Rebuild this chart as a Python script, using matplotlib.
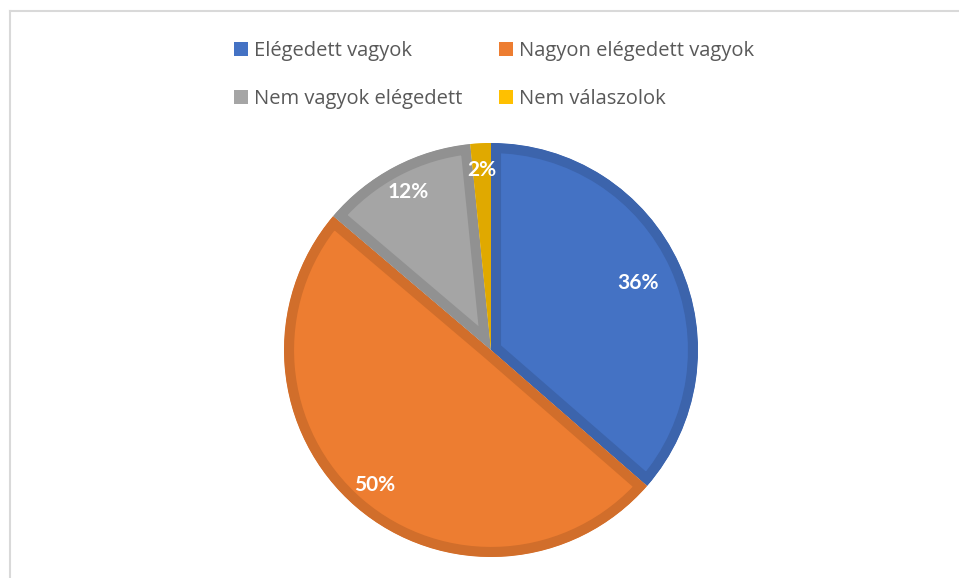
import matplotlib.pyplot as plt
import numpy as np
from matplotlib.lines import Line2D
from matplotlib.patches import Patch
from matplotlib.colors import to_rgb

plt.rcParams['font.family'] = ['Open Sans', 'DejaVu Sans']

labels = ['Elégedett vagyok', 'Nagyon elégedett vagyok',
          'Nem vagyok elégedett', 'Nem válaszolok']
values = [36.4, 49.8, 12.2, 1.6]
colors = ['#4472C4', '#ED7D31', '#A5A5A5', '#FFC000']

# distance of each percent label from the centre (fraction of radius)
label_dist = [0.78, 0.86, 0.86, 0.87]


def darker(c, f=0.88):
    r, g, b = to_rgb(c)
    return (r * f, g * f, b * f)


W, H = 959, 578
fig = plt.figure(figsize=(W / 100, H / 100), dpi=100)

cx, cy, r = 491, 350, 207
ax = fig.add_axes([(cx - r) / W, (H - cy - r) / H, 2 * r / W, 2 * r / H])

wedges, _ = ax.pie(values, colors=colors, startangle=90, counterclock=False,
                   radius=1.0, center=(0, 0), frame=False)
ax.set_xlim(-1, 1)
ax.set_ylim(-1, 1)
ax.axis('off')

total = sum(values)
for w, c, v, d in zip(wedges, colors, values, label_dist):
    # darker border drawn only on the inside of each slice
    w.set_edgecolor(darker(c))
    w.set_linewidth(14.5)
    w.set_clip_path(w)
    w.set_clip_on(True)
    mid = np.deg2rad((w.theta1 + w.theta2) / 2)
    ax.text(d * np.cos(mid), d * np.sin(mid), f'{round(v / total * 100):.0f}%',
            ha='center', va='center', color='white', fontsize=15,
            fontweight='bold', family=['Lato', 'DejaVu Sans'])

# legend in row-major order like the original
order = [0, 2, 1, 3]
handles = [Patch(facecolor=colors[i], edgecolor='none') for i in order]
fig.legend(handles, [labels[i] for i in order], ncol=2,
           loc='center', bbox_to_anchor=(494 / W, 1 - 75 / H),
           frameon=False, fontsize=14.5, labelcolor='#595959',
           handlelength=0.7, handleheight=0.7, handletextpad=0.3,
           columnspacing=1.8, labelspacing=1.4)

# chart area border (only left and top visible)
fig.add_artist(Line2D([9.5 / W, 9.5 / W], [0, 1 - 11 / H],
                      transform=fig.transFigure, color='#D9D9D9', lw=1.5))
fig.add_artist(Line2D([9.5 / W, 1], [1 - 11 / H, 1 - 11 / H],
                      transform=fig.transFigure, color='#D9D9D9', lw=1.5))

fig.savefig('out.png', dpi=100)
